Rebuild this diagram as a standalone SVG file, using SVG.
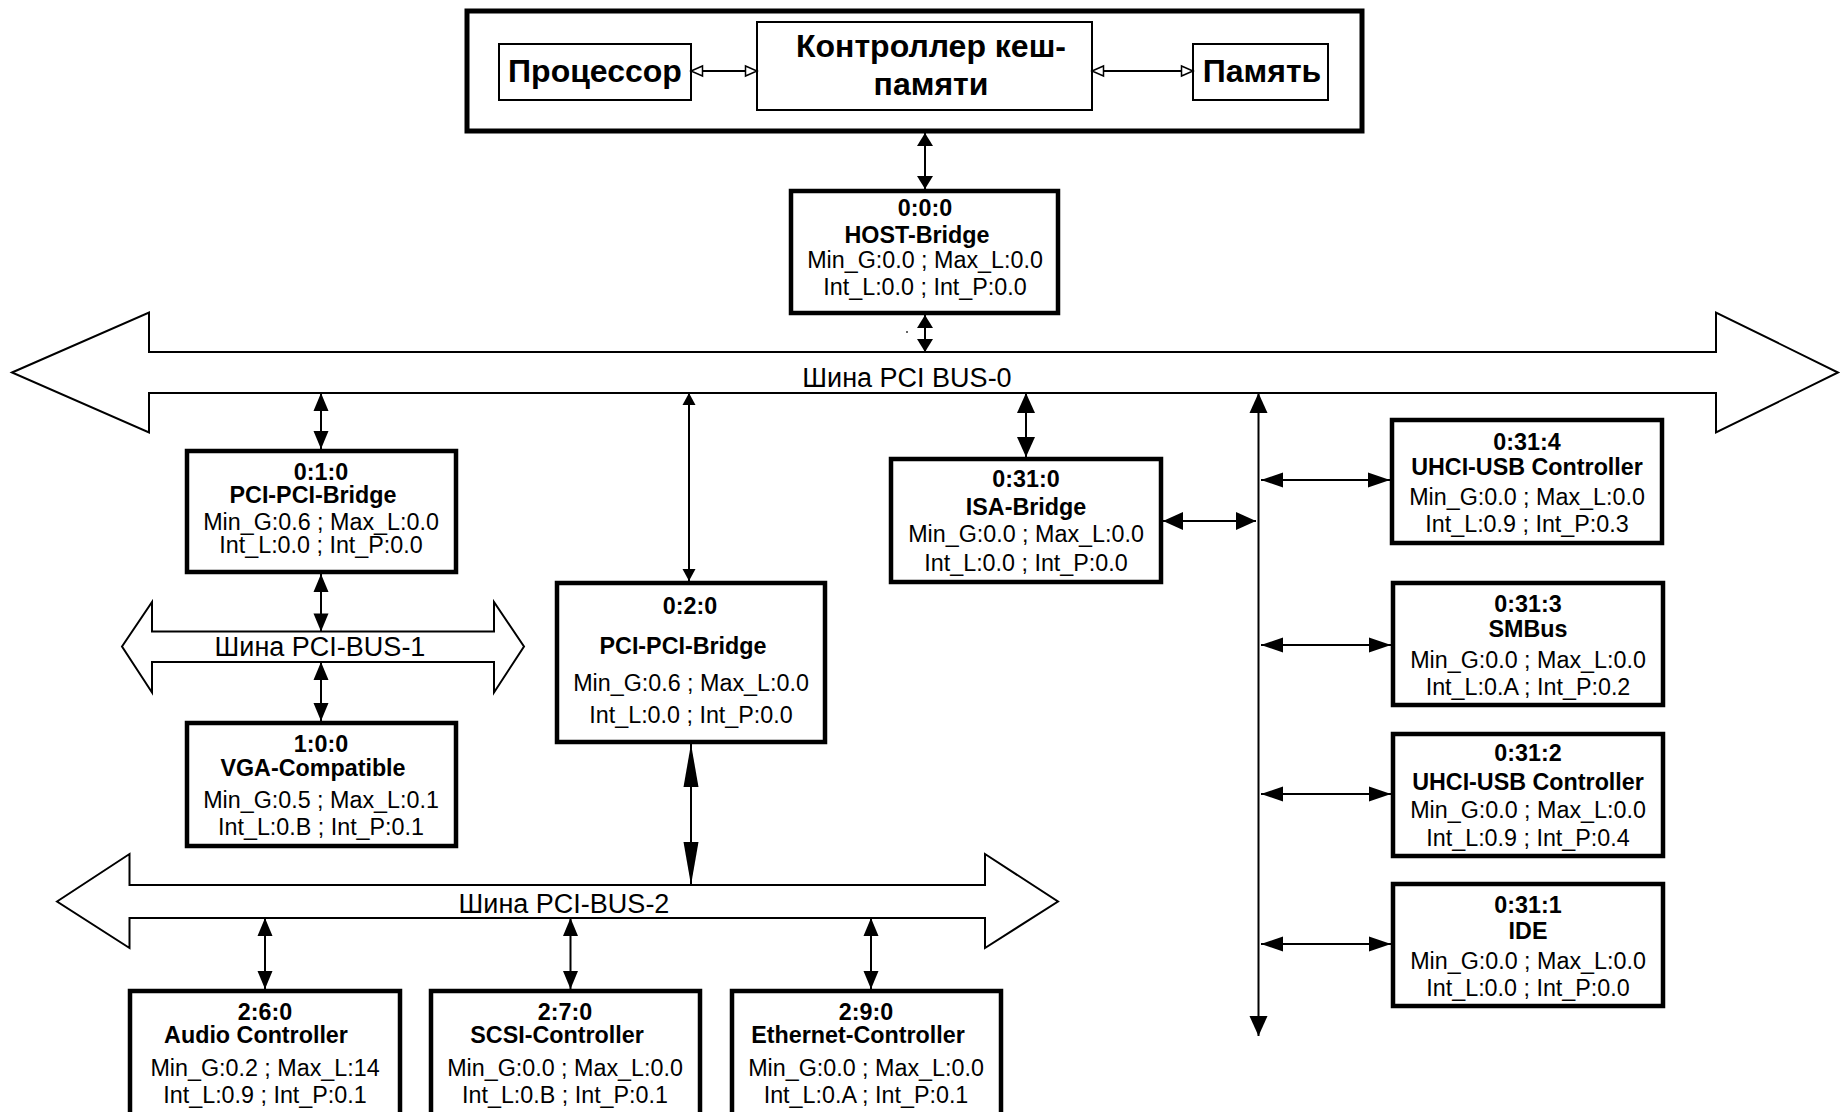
<svg xmlns="http://www.w3.org/2000/svg" width="1841" height="1112" viewBox="0 0 1841 1112">
<style>
text{font-family:"Liberation Sans",Arial,sans-serif;fill:#000;text-anchor:middle}
.t{font-size:23.3px}
.b{font-size:23.3px;font-weight:bold}
.big{font-size:32px;font-weight:bold}
.bus{font-size:27px}
.node{fill:#fff;stroke:#000;stroke-width:4.5}
.thin{fill:#fff;stroke:#000;stroke-width:2}
.busp{fill:#fff;stroke:#000;stroke-width:2;stroke-linejoin:miter}
.c{fill:none;stroke:#000;stroke-width:2}
</style>
<defs>
<marker id="mo" markerUnits="userSpaceOnUse" markerWidth="14" markerHeight="14" refX="12" refY="5.5" orient="auto-start-reverse" overflow="visible"><path d="M0.5,0.5 L12,5.5 L0.5,10.5 z" fill="#fff" stroke="#000" stroke-width="1.5"/></marker>
<marker id="m13" markerUnits="userSpaceOnUse" markerWidth="14" markerHeight="16" refX="13" refY="8" orient="auto-start-reverse" overflow="visible"><path d="M0,0 L13,8 L0,16 z" fill="#000"/></marker>
<marker id="m18" markerUnits="userSpaceOnUse" markerWidth="19" markerHeight="15" refX="18" refY="7.5" orient="auto-start-reverse" overflow="visible"><path d="M0,0 L18,7.5 L0,15 z" fill="#000"/></marker>
<marker id="m12" markerUnits="userSpaceOnUse" markerWidth="13" markerHeight="13" refX="12" refY="6.5" orient="auto-start-reverse" overflow="visible"><path d="M0,0 L12,6.5 L0,13 z" fill="#000"/></marker>
<marker id="m22" markerUnits="userSpaceOnUse" markerWidth="23" markerHeight="15" refX="22" refY="7.5" orient="auto-start-reverse" overflow="visible"><path d="M0,0 L22,7.5 L0,15 z" fill="#000"/></marker>
<marker id="m20" markerUnits="userSpaceOnUse" markerWidth="21" markerHeight="18" refX="20" refY="9" orient="auto-start-reverse" overflow="visible"><path d="M0,0 L20,9 L0,18 z" fill="#000"/></marker>
<marker id="m43" markerUnits="userSpaceOnUse" markerWidth="44" markerHeight="15" refX="43" refY="7.5" orient="auto-start-reverse" overflow="visible"><path d="M0,0 L43,7.5 L0,15 z" fill="#000"/></marker>
</defs>
<rect width="1841" height="1112" fill="#fff"/>

<!-- buses -->
<g id="bus0">
<polygon class="busp" points="12,372.5 149,312.5 149,352 1716,352 1716,312.5 1838,372.5 1716,432.5 1716,393 149,393 149,432.5"/>
<text class="bus" x="907" y="386.5">Шина PCI BUS-0</text>
</g>
<g id="bus1">
<polygon class="busp" points="122,646.5 152,602 152,631.5 494,631.5 494,602 524,646.5 494,692.5 494,662 152,662 152,692.5"/>
<text class="bus" x="320" y="656">Шина PCI-BUS-1</text>
</g>
<g id="bus2">
<polygon class="busp" points="57,901.5 129.5,854 129.5,885 985,885 985,854 1058,901.5 985,948 985,918 129.5,918 129.5,948"/>
<text class="bus" x="564" y="912.5">Шина PCI-BUS-2</text>
</g>

<!-- top group -->
<g id="cpu-group">
<rect x="467" y="11" width="895" height="120" fill="#fff" stroke="#000" stroke-width="5"/>
</g>
<g id="cpu">
<rect class="thin" x="499" y="44" width="192" height="56"/>
<text class="big" x="595" y="82">Процессор</text>
</g>
<g id="cache">
<rect class="thin" x="757" y="22" width="335" height="88"/>
<text class="big" x="931" y="57">Контроллер кеш-</text>
<text class="big" x="931" y="95">памяти</text>
</g>
<g id="mem">
<rect class="thin" x="1193" y="44" width="135" height="56"/>
<text class="big" x="1262" y="82">Память</text>
</g>

<!-- nodes -->
<g id="host">
<rect class="node" x="791" y="191" width="267" height="122"/>
<text class="b" x="925" y="216">0:0:0</text>
<text class="b" x="917" y="243">HOST-Bridge</text>
<text class="t" x="925" y="268">Min_G:0.0 ; Max_L:0.0</text>
<text class="t" x="925" y="295">Int_L:0.0 ; Int_P:0.0</text>
</g>
<g id="n010">
<rect class="node" x="187" y="451" width="269" height="121"/>
<text class="b" x="321" y="480">0:1:0</text>
<text class="b" x="313" y="503">PCI-PCI-Bridge</text>
<text class="t" x="321" y="530">Min_G:0.6 ; Max_L:0.0</text>
<text class="t" x="321" y="553">Int_L:0.0 ; Int_P:0.0</text>
</g>
<g id="n100">
<rect class="node" x="187" y="723" width="269" height="123"/>
<text class="b" x="321" y="752">1:0:0</text>
<text class="b" x="313" y="776">VGA-Compatible</text>
<text class="t" x="321" y="808">Min_G:0.5 ; Max_L:0.1</text>
<text class="t" x="321" y="835">Int_L:0.B ; Int_P:0.1</text>
</g>
<g id="n020">
<rect class="node" x="557" y="583" width="268" height="159"/>
<text class="b" x="690" y="614">0:2:0</text>
<text class="b" x="683" y="654">PCI-PCI-Bridge</text>
<text class="t" x="691" y="691">Min_G:0.6 ; Max_L:0.0</text>
<text class="t" x="691" y="723">Int_L:0.0 ; Int_P:0.0</text>
</g>
<g id="n0310">
<rect class="node" x="891" y="459" width="270" height="123"/>
<text class="b" x="1026" y="487">0:31:0</text>
<text class="b" x="1026" y="515">ISA-Bridge</text>
<text class="t" x="1026" y="542">Min_G:0.0 ; Max_L:0.0</text>
<text class="t" x="1026" y="571">Int_L:0.0 ; Int_P:0.0</text>
</g>
<g id="n0314">
<rect class="node" x="1392" y="420" width="270" height="123"/>
<text class="b" x="1527" y="450">0:31:4</text>
<text class="b" x="1527" y="475">UHCI-USB Controller</text>
<text class="t" x="1527" y="505">Min_G:0.0 ; Max_L:0.0</text>
<text class="t" x="1527" y="532">Int_L:0.9 ; Int_P:0.3</text>
</g>
<g id="n0313">
<rect class="node" x="1393" y="583" width="270" height="122"/>
<text class="b" x="1528" y="612">0:31:3</text>
<text class="b" x="1528" y="637">SMBus</text>
<text class="t" x="1528" y="668">Min_G:0.0 ; Max_L:0.0</text>
<text class="t" x="1528" y="695">Int_L:0.A ; Int_P:0.2</text>
</g>
<g id="n0312">
<rect class="node" x="1393" y="734" width="270" height="122"/>
<text class="b" x="1528" y="761">0:31:2</text>
<text class="b" x="1528" y="790">UHCI-USB Controller</text>
<text class="t" x="1528" y="818">Min_G:0.0 ; Max_L:0.0</text>
<text class="t" x="1528" y="846">Int_L:0.9 ; Int_P:0.4</text>
</g>
<g id="n0311">
<rect class="node" x="1393" y="884" width="270" height="122"/>
<text class="b" x="1528" y="913">0:31:1</text>
<text class="b" x="1528" y="939">IDE</text>
<text class="t" x="1528" y="969">Min_G:0.0 ; Max_L:0.0</text>
<text class="t" x="1528" y="996">Int_L:0.0 ; Int_P:0.0</text>
</g>
<g id="n260">
<rect class="node" x="130" y="991" width="270" height="128"/>
<text class="b" x="265" y="1020">2:6:0</text>
<text class="b" x="256" y="1043">Audio Controller</text>
<text class="t" x="265" y="1076">Min_G:0.2 ; Max_L:14</text>
<text class="t" x="265" y="1103">Int_L:0.9 ; Int_P:0.1</text>
</g>
<g id="n270">
<rect class="node" x="431" y="991" width="269" height="128"/>
<text class="b" x="565" y="1020">2:7:0</text>
<text class="b" x="557" y="1043">SCSI-Controller</text>
<text class="t" x="565" y="1076">Min_G:0.0 ; Max_L:0.0</text>
<text class="t" x="565" y="1103">Int_L:0.B ; Int_P:0.1</text>
</g>
<g id="n290">
<rect class="node" x="732" y="991" width="269" height="128"/>
<text class="b" x="866" y="1020">2:9:0</text>
<text class="b" x="858" y="1043">Ethernet-Controller</text>
<text class="t" x="866" y="1076">Min_G:0.0 ; Max_L:0.0</text>
<text class="t" x="866" y="1103">Int_L:0.A ; Int_P:0.1</text>
</g>

<!-- connectors -->
<g id="connectors">
<line class="c" x1="691" y1="71" x2="757" y2="71" stroke-width="1.8" marker-start="url(#mo)" marker-end="url(#mo)"/>
<line class="c" x1="1092" y1="71" x2="1193" y2="71" stroke-width="1.8" marker-start="url(#mo)" marker-end="url(#mo)"/>
<line class="c" x1="925" y1="133" x2="925" y2="189" stroke-width="2.5" marker-start="url(#m13)" marker-end="url(#m13)"/>
<line class="c" x1="925" y1="315" x2="925" y2="352" stroke-width="2.5" marker-start="url(#m13)" marker-end="url(#m13)"/>
<line class="c" x1="321" y1="393" x2="321" y2="449" stroke-width="2.5" marker-start="url(#m18)" marker-end="url(#m18)"/>
<line class="c" x1="321" y1="574" x2="321" y2="631.5" stroke-width="2.5" marker-start="url(#m18)" marker-end="url(#m18)"/>
<line class="c" x1="321" y1="662" x2="321" y2="721" stroke-width="2.5" marker-start="url(#m18)" marker-end="url(#m18)"/>
<line class="c" x1="689" y1="393" x2="689" y2="581" stroke-width="1.8" marker-start="url(#m12)" marker-end="url(#m12)"/>
<line class="c" x1="691" y1="744" x2="691" y2="885" stroke-width="2.5" marker-start="url(#m43)" marker-end="url(#m43)"/>
<line class="c" x1="1026" y1="393" x2="1026" y2="457" stroke-width="3" marker-start="url(#m20)" marker-end="url(#m20)"/>
<line class="c" x1="1163" y1="521" x2="1256" y2="521" stroke-width="3" marker-start="url(#m20)" marker-end="url(#m20)"/>
<line class="c" x1="1258.5" y1="393" x2="1258.5" y2="1036" stroke-width="5" marker-start="url(#m20)" marker-end="url(#m20)"/>
<line class="c" x1="1261" y1="480" x2="1390" y2="480" marker-start="url(#m22)" marker-end="url(#m22)"/>
<line class="c" x1="1261" y1="645" x2="1391" y2="645" marker-start="url(#m22)" marker-end="url(#m22)"/>
<line class="c" x1="1261" y1="794" x2="1391" y2="794" marker-start="url(#m22)" marker-end="url(#m22)"/>
<line class="c" x1="1261" y1="944" x2="1391" y2="944" marker-start="url(#m22)" marker-end="url(#m22)"/>
<line class="c" x1="265" y1="918" x2="265" y2="989" marker-start="url(#m18)" marker-end="url(#m18)"/>
<line class="c" x1="570.5" y1="918" x2="570.5" y2="989" marker-start="url(#m18)" marker-end="url(#m18)"/>
<line class="c" x1="871" y1="918" x2="871" y2="989" marker-start="url(#m18)" marker-end="url(#m18)"/>
</g>
<rect x="906" y="331" width="2" height="2" fill="#666"/>
</svg>
